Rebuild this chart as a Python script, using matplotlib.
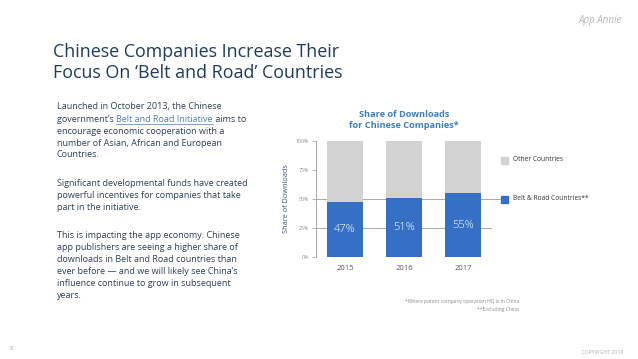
import matplotlib
matplotlib.use("Agg")
import matplotlib.pyplot as plt
from matplotlib.lines import Line2D
from matplotlib.patches import Rectangle

years = ["2015", "2016", "2017"]
belt_road = [47, 51, 55]
other = [53, 49, 45]
y_ticks = [0, 25, 50, 75, 100]
y_tick_labels = ["0%", "25%", "50%", "75%", "100%"]
series_names = ["Other Countries", "Belt & Road Countries**"]

W, H = 638, 359
BLUE = "#3570c6"
GRAY = "#d3d2d3"
NAVY = "#1f3b5e"
TEXT = "#2e3f57"

fig = plt.figure(figsize=(W / 100, H / 100), dpi=100)
fig.patch.set_facecolor("white")
FONT = ["Open Sans", "DejaVu Sans"]


def P(x, y):
    return (x / W, 1 - y / H)


def ftext(x, y, s, **kw):
    kw.setdefault("family", FONT)
    return fig.text(*P(x, y), s, transform=fig.transFigure, **kw)


# Header
ftext(622, 21, "App Annie", fontsize=7, color="#b8b8b8", style="italic",
      ha="right", va="center", family=["Liberation Sans Narrow", "Open Sans"])
ftext(53, 52, "Chinese Companies Increase Their", fontsize=12.9, color=NAVY, va="center")
ftext(53, 73, "Focus On \u2018Belt and Road\u2019 Countries", fontsize=12.9, color=NAVY, va="center")

# Body paragraphs
fs = 6.45
lines = [
    (107, "Launched in October 2013, the Chinese"),
    (119, None),
    (131, "encourage economic cooperation with a"),
    (143, "number of Asian, African and European"),
    (155, "Countries."),
    (184, "Significant developmental funds have created"),
    (196, "powerful incentives for companies that take"),
    (208, "part in the initiative."),
    (236, "This is impacting the app economy. Chinese"),
    (248, "app publishers are seeing a higher share of"),
    (260, "downloads in Belt and Road countries than"),
    (272, "ever before \u2014 and we will likely see China\u2019s"),
    (284, "influence continue to grow in subsequent"),
    (296, "years."),
]
fig.canvas.draw()
renderer = fig.canvas.get_renderer()
for y, s in lines:
    if s is not None:
        ftext(57, y, s, fontsize=fs, color=TEXT, va="center")
    else:
        x = 57
        t1 = ftext(x, y, "government\u2019s ", fontsize=fs, color=TEXT, va="center")
        w1 = t1.get_window_extent(renderer).width
        x += w1
        t2 = ftext(x, y, "Belt and Road Initiative", fontsize=fs, color="#4a7fc4", va="center")
        w2 = t2.get_window_extent(renderer).width
        fig.add_artist(Line2D([x / W, (x + w2) / W], [1 - (y + 4.5) / H] * 2,
                              color="#4a7fc4", lw=0.5, transform=fig.transFigure))
        x += w2
        ftext(x, y, " aims to", fontsize=fs, color=TEXT, va="center")

# Chart
ax_l, ax_r, ax_t, ax_b = 316, 492, 141, 257
ax = fig.add_axes([ax_l / W, 1 - ax_b / H, (ax_r - ax_l) / W, (ax_b - ax_t) / H])
x = range(len(years))
ax.bar(x, belt_road, width=0.61, color=BLUE, zorder=3)
ax.bar(x, other, bottom=belt_road, width=0.61, color=GRAY, zorder=3)
for yv in (25, 50):
    ax.axhline(yv, color="#9a9a9a", lw=0.6, zorder=1)
ax.set_xlim(-0.49, 2.49)
ax.set_ylim(0, 100)
ax.set_yticks(y_ticks)
ax.set_yticklabels(y_tick_labels, fontsize=3.8, color="#8a8a8a", family=FONT)
ax.set_xticks(list(x))
ax.set_xticklabels(years, fontsize=5.5, color="#555555", family=FONT)
ax.tick_params(axis="y", length=3, width=0.5, color="#9a9a9a", pad=2)
ax.tick_params(axis="x", length=0, pad=6)
for sp in ("top", "right", "bottom"):
    ax.spines[sp].set_visible(False)
ax.spines["left"].set_color("#9a9a9a")
ax.spines["left"].set_linewidth(0.6)
ax.set_facecolor("none")
ax.set_ylabel("Share of Downloads", fontsize=5.3, color="#3b5575", family=FONT, labelpad=4)
for i, v in enumerate(belt_road):
    ax.text(i, v / 2, f"{v}%", ha="center", va="center", color="white",
            fontsize=8, family=FONT, weight="light", zorder=4)

# extend 50% line toward legend marker
fig.add_artist(Line2D([ax_r / W, 500 / W], [1 - 199 / H] * 2, color="#9a9a9a",
                      lw=0.6, transform=fig.transFigure))

ftext(404, 120, "Share of Downloads\nfor Chinese Companies*", fontsize=6.6,
      color="#3d7ccb", weight="bold", ha="center", va="center", linespacing=1.15)

# Legend
for (yy, col, name) in ((160, GRAY, series_names[0]), (199, BLUE, series_names[1])):
    fig.add_artist(Rectangle(P(501, yy + 3.5), 7 / W, 7 / H, color=col,
                             transform=fig.transFigure))
    ftext(513, yy, name, fontsize=4.8, color="#333333", va="center")

# Footnotes
ftext(519, 302, "*Where parent company operation HQ is in China", fontsize=3.6,
      color="#8a8a8a", ha="right", va="center")
ftext(519, 310, "**Excluding China", fontsize=3.6, color="#8a8a8a", ha="right", va="center")
ftext(623, 353, "COPYRIGHT 2018", fontsize=3.8, color="#b0b0b0", ha="right", va="center")
ftext(9, 348, "31", fontsize=3.8, color="#b0b0b0", ha="left", va="center")

fig.savefig("out.png", dpi=100)
